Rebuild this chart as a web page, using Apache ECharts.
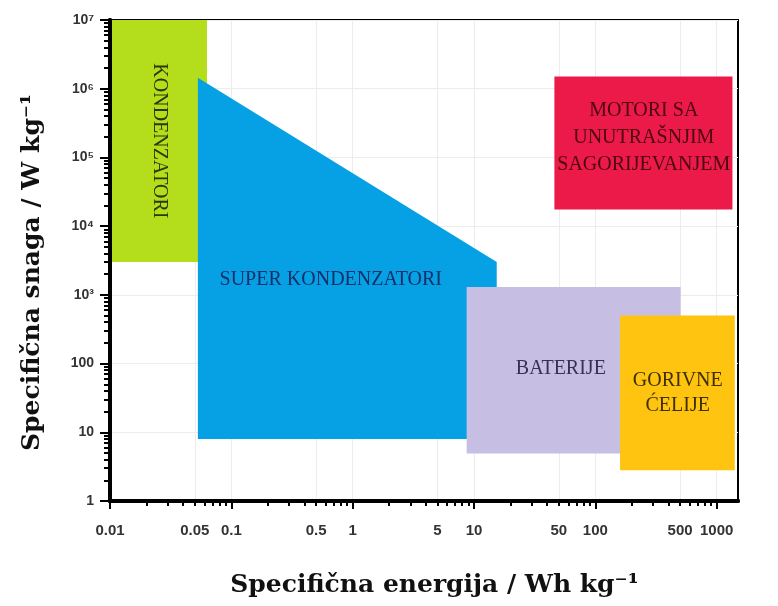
<!DOCTYPE html>
<html><head><meta charset="utf-8">
<script src="https://cdn.jsdelivr.net/npm/echarts@6/dist/echarts.min.js"></script>
<style>html,body{margin:0;padding:0;background:#fff}#c{width:778px;height:606px}</style>
</head><body><div id="c"></div><script>
// ---- axis ticks / labels ----
const xLabelValues = [0.01, 0.05, 0.1, 0.5, 1, 5, 10, 50, 100, 500, 1000];
const xLabelTexts  = ['0.01', '0.05', '0.1', '0.5', '1', '5', '10', '50', '100', '500', '1000'];
const xMajorTicks  = [0.01, 0.1, 1, 10, 100, 1000];
const yTickValues  = [1, 10, 100, 1000, 10000, 100000, 1000000, 10000000];
const yTickTexts   = ['1', '10', '100', '10³', '10⁴', '10⁵', '10⁶', '10⁷'];
const minorMultipliers = [2, 3, 4, 5, 6, 7, 8, 9];

// ---- regions (specific energy Wh/kg, specific power W/kg) ----
const regionNames = ['KONDENZATORI', 'SUPER KONDENZATORI', 'BATERIJE', 'GORIVNE\nĆELIJE', 'MOTORI SA\nUNUTRAŠNJIM\nSAGORIJEVANJEM'];
const kondenzatoriPoly = [[0.0102, 3000], [0.063, 3000], [0.063, 1e7], [0.0102, 1e7]];
const superKondPoly    = [[0.053, 8], [0.053, 1.45e6], [15.4, 3000], [15.4, 8]];
const baterijePoly     = [[8.7, 4.9], [8.7, 1300], [505, 1300], [505, 4.9]];
const gorivnePoly      = [[160, 2.8], [160, 500], [1410, 500], [1410, 2.8]];
const motoriPoly       = [[46, 17500], [46, 1.5e6], [1350, 1.5e6], [1350, 17500]];
const labelAnchors     = [[0.0257, 1.74e5], [0.66, 1640], [52, 85], [478, 37], [251, 1.92e5]];

const polys = [kondenzatoriPoly, superKondPoly, baterijePoly, gorivnePoly, motoriPoly];
const fills = ['#b4de1c', '#05a1e4', '#c7bee4', '#fec40f', '#ec1a48'];
const textColors = ['#2b3808', '#14306a', '#3a3150', '#3f2f00', '#4d0612'];
const rotations = [-Math.PI / 2, 0, 0, 0, 0];
const lineHeights = [22, 22, 22, 25, 27];

function minorList(majors) {
  const out = [];
  majors.forEach(m => minorMultipliers.forEach(k => out.push(+(m * k).toPrecision(6))));
  return out;
}
const xAllTicks = xMajorTicks.concat(minorList(xMajorTicks));
const yAllTicks = yTickValues.concat(minorList(yTickValues));

function nearestText(vals, texts, v) {
  let best = 0, bd = Infinity;
  vals.forEach((t, i) => { const d = Math.abs(Math.log10(t / v)); if (d < bd) { bd = d; best = i; } });
  return texts[best];
}

const XMIN = 0.01, XMAX = 1500, YMIN = 1, YMAX = 1e7;
const GRID = { left: 110, top: 20, width: 628, height: 481 };
const tickFont = { fontFamily: 'Liberation Sans', fontWeight: 'bold', color: '#333' };
const titleFont = { fontFamily: 'DejaVu Serif', fontWeight: 'bold', fontSize: 25, color: '#111' };

// helper axis in an overlaid second grid: longer ticks at the decades
function majorAxis(extra) {
  return Object.assign({
    type: 'log', logBase: 10, gridIndex: 1,
    axisLine: { show: true, lineStyle: { color: '#000', width: 4 } },
    axisLabel: { show: true, color: 'rgba(0,0,0,0)', fontSize: 10 },
    splitLine: { show: false }
  }, extra);
}
function gridLineAxis(extra) {
  return Object.assign({
    type: 'log', logBase: 10,
    axisLine: { show: false }, axisLabel: { show: false },
    minorTick: { show: false }, minorSplitLine: { show: false }
  }, extra);
}

const regionSeries = polys.map((poly, i) => ({
  type: 'custom', xAxisIndex: 0, yAxisIndex: 0, z: 2 + i, clip: true,
  data: [labelAnchors[i]],
  renderItem: (params, api) => {
    const pts = poly.map(p => api.coord(p));
    const c = api.coord([api.value(0), api.value(1)]);
    return {
      type: 'group', children: [
        { type: 'polygon', shape: { points: pts }, style: { fill: fills[i] } },
        { type: 'text', x: c[0], y: c[1], rotation: rotations[i],
          style: { text: regionNames[i], fill: textColors[i], fontSize: 20, fontFamily: 'Liberation Serif',
            align: 'center', verticalAlign: 'middle', lineHeight: lineHeights[i] } }
      ]
    };
  }
}));

const chart = echarts.init(document.getElementById('c'), null, { renderer: 'canvas' });
chart.setOption({
  animation: false,
  backgroundColor: '#fff',
  grid: [
    Object.assign({ show: true, borderColor: '#000', borderWidth: 2, backgroundColor: 'transparent' }, GRID),
    Object.assign({ show: false }, GRID)
  ],
  xAxis: [
    {
      type: 'log', logBase: 10, min: XMIN, max: XMAX, position: 'bottom', z: 5,
      axisLine: { show: true, onZero: false, lineStyle: { color: '#000', width: 4 } },
      axisTick: { show: true, inside: false, length: 5, customValues: xAllTicks, lineStyle: { color: '#000', width: 2 } },
      axisLabel: Object.assign({ customValues: xLabelValues, margin: 22, fontSize: 15,
        formatter: v => nearestText(xLabelValues, xLabelTexts, v) }, tickFont),
      splitLine: { show: false }, minorTick: { show: false },
      name: 'Specifična energija / Wh kg⁻¹', nameLocation: 'middle', nameGap: 72,
      nameTextStyle: Object.assign({ padding: [0, 0, 0, 21] }, titleFont)
    },
    gridLineAxis({ min: XMIN, max: XMAX, position: 'bottom', z: 0,
      axisTick: { show: false, customValues: xLabelValues },
      splitLine: { show: true, lineStyle: { color: '#ececec', width: 1 } } }),
    majorAxis({ min: XMIN, max: XMAX, position: 'bottom',
      axisTick: { show: true, length: 8, customValues: xMajorTicks, lineStyle: { color: '#000', width: 2 } } })
  ],
  yAxis: [
    {
      type: 'log', logBase: 10, min: YMIN, max: YMAX, position: 'left', z: 5,
      axisLine: { show: true, onZero: false, lineStyle: { color: '#000', width: 4 } },
      axisTick: { show: true, inside: false, length: 6, customValues: yAllTicks, lineStyle: { color: '#000', width: 2 } },
      axisLabel: Object.assign({ customValues: yTickValues, margin: 16, fontSize: 14,
        formatter: v => nearestText(yTickValues, yTickTexts, v) }, tickFont),
      splitLine: { show: false }, minorTick: { show: false },
      name: 'Specifična snaga / W kg⁻¹', nameLocation: 'middle', nameRotate: 90, nameGap: 65,
      nameTextStyle: Object.assign({ padding: [0, 24, 0, 0] }, titleFont)
    },
    gridLineAxis({ min: YMIN, max: YMAX, position: 'left', z: 0,
      axisTick: { show: false, customValues: yTickValues },
      splitLine: { show: true, lineStyle: { color: '#ececec', width: 1 } } }),
    majorAxis({ min: YMIN, max: YMAX, position: 'left',
      axisTick: { show: true, length: 10, customValues: yTickValues, lineStyle: { color: '#000', width: 2 } } })
  ],
  series: regionSeries
});
</script></body></html>
